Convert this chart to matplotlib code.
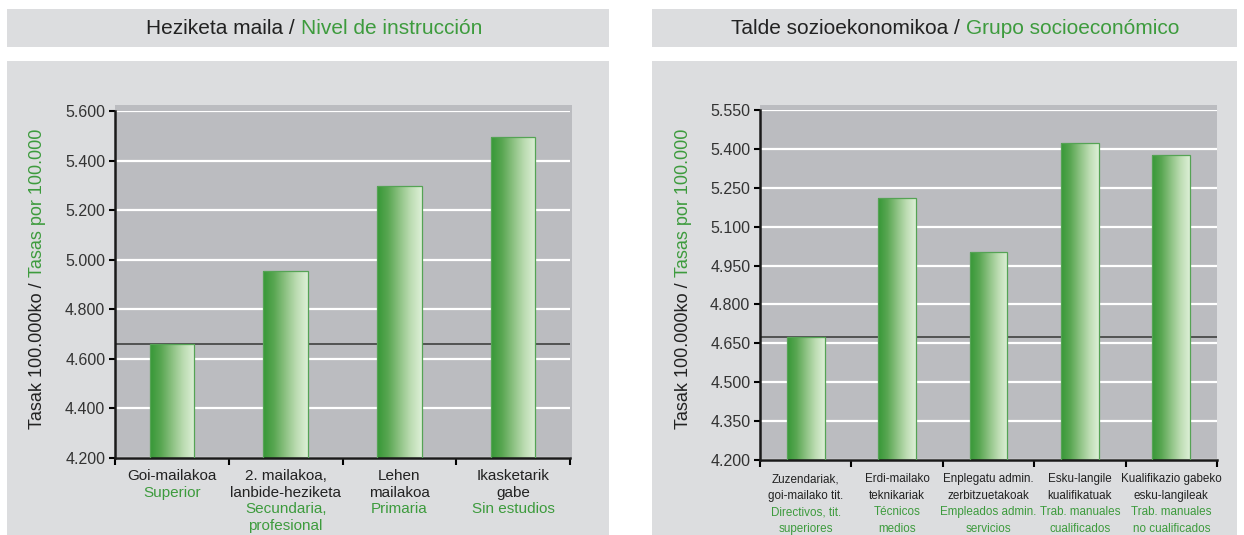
import matplotlib
matplotlib.use("Agg")
import matplotlib.pyplot as plt
import numpy as np
from matplotlib.colors import LinearSegmentedColormap
from matplotlib.patches import Rectangle
from matplotlib.ticker import FuncFormatter

plt.rcParams["font.family"] = ["Liberation Sans", "DejaVu Sans"]

W, H = 1244, 535
GREEN = "#3d9b3d"
DARK = "#222222"
PANEL = "#dcdddf"
PLOT_BG = "#bbbcc0"

# ---------- datos ----------
edu_title = ("Heziketa maila /", "Nivel de instrucción")
edu_eu = ["Goi-mailakoa", "2. mailakoa,\nlanbide-heziketa", "Lehen\nmailakoa", "Ikasketarik\ngabe"]
edu_es = ["Superior", "Secundaria,\nprofesional", "Primaria", "Sin estudios"]
edu_rates = [4658, 4954, 5298, 5497]
edu_ref = 4658
edu_yticks = [4200, 4400, 4600, 4800, 5000, 5200, 5400, 5600]

soc_title = ("Talde sozioekonomikoa /", "Grupo socioeconómico")
soc_eu = ["Zuzendariak,\ngoi-mailako tit.", "Erdi-mailako\nteknikariak", "Enplegatu admin.\nzerbitzuetakoak",
          "Esku-langile\nkualifikatuak", "Kualifikazio gabeko\nesku-langileak"]
soc_es = ["Directivos, tit.\nsuperiores", "Técnicos\nmedios", "Empleados admin.\nservicios",
          "Trab. manuales\ncualificados", "Trab. manuales\nno cualificados"]
soc_rates = [4673, 5209, 5002, 5421, 5377]
soc_ref = 4673
soc_yticks = [4200, 4350, 4500, 4650, 4800, 4950, 5100, 5250, 5400, 5550]

ylabel = ("Tasak 100.000ko /", "Tasas por 100.000")

bar_cmap = LinearSegmentedColormap.from_list(
    "barra", ["#379837", "#5aa753", "#8dc283", "#bcdcb2", "#dcefd6"])


def rect_px(x0, y0, x1, y1):
    # pixeles (origen arriba-izquierda) -> fraccion de figura
    return [x0 / W, 1 - y1 / H, (x1 - x0) / W, (y1 - y0) / H]


fig = plt.figure(figsize=(W / 100, H / 100), dpi=100)
fig.patch.set_facecolor("white")

for box in [(7, 9, 609, 47), (7, 61, 609, 535), (652, 9, 1237, 47), (652, 61, 1237, 535)]:
    x, y, w, h = rect_px(*box)
    fig.add_artist(Rectangle((x, y), w, h, transform=fig.transFigure, color=PANEL, lw=0, zorder=-3))
for box in [(115, 105, 572, 459), (760, 105, 1217, 459)]:
    x, y, w, h = rect_px(*box)
    fig.add_artist(Rectangle((x, y), w, h, transform=fig.transFigure, color=PLOT_BG, lw=0, zorder=-2))


def two_tone(cx, cy, parts, size, rotation=0):
    """Texto en dos colores (negro + verde) centrado en (cx, cy) px."""
    renderer = fig.canvas.get_renderer()
    gap = 0.278 * size * 100 / 72
    ts = []
    for txt, col in zip(parts, [DARK, GREEN]):
        t = fig.text(0, 0, txt, color=col, fontsize=size, rotation=rotation,
                     ha="left" if rotation == 0 else "center",
                     va="center" if rotation == 0 else "bottom",
                     rotation_mode="anchor" if rotation == 0 else "default")
        ts.append(t)
    sizes = []
    for t in ts:
        bb = t.get_window_extent(renderer)
        sizes.append(bb.width if rotation == 0 else bb.height)
    total = sizes[0] + gap + sizes[1]
    if rotation == 0:
        start = cx - total / 2
        ts[0].set_position((start / W, 1 - cy / H))
        ts[1].set_position(((start + sizes[0] + gap) / W, 1 - cy / H))
    else:
        start = (H - cy) - total / 2
        ts[0].set_position((cx / W, start / H))
        ts[1].set_position((cx / W, (start + sizes[0] + gap) / H))


def draw_panel(pos, rates, ref, yticks, lab_eu, lab_es, bar_w, lab_size):
    ax = fig.add_axes(rect_px(*pos))
    ax.set_facecolor("none")
    n = len(rates)
    x = np.arange(n)
    bars = ax.bar(x, rates, width=bar_w, bottom=0, color="none",
                  edgecolor="#55a355", linewidth=0.9, zorder=3)
    grad = np.linspace(0, 1, 64).reshape(1, -1)
    for b in bars:
        x0, y0 = b.get_x(), yticks[0]
        im = ax.imshow(grad, cmap=bar_cmap, aspect="auto", zorder=2.5,
                       extent=(x0, x0 + b.get_width(), y0, b.get_height()))
        im.set_clip_path(b)
    ax.axhline(ref, color="#4a4a4a", lw=1.3, zorder=1.5)
    ax.set_xlim(-0.5, n - 0.5)
    ax.set_ylim(yticks[0], yticks[-1])
    ax.set_yticks(yticks)
    ax.yaxis.set_major_formatter(FuncFormatter(lambda v, p: f"{v:,.0f}".replace(",", ".")))
    ax.set_xticks(np.arange(n + 1) - 0.5)
    ax.set_xticklabels([])
    ax.yaxis.grid(True, color="white", lw=1.6, zorder=0.5)
    ax.set_axisbelow(True)
    for s in ["top", "right"]:
        ax.spines[s].set_visible(False)
    for s in ["left", "bottom"]:
        ax.spines[s].set_color("#1a1a1a")
        ax.spines[s].set_linewidth(1.8)
    ax.tick_params(axis="y", direction="out", length=4, width=1.5, pad=3,
                   labelsize=11.5, labelcolor="#333333")
    ax.tick_params(axis="x", direction="out", length=5, width=1.5)
    for i, (eu, es) in enumerate(zip(lab_eu, lab_es)):
        lines = [(l, DARK) for l in eu.split("\n")] + [(l, GREEN) for l in es.split("\n")]
        for j, (t, c) in enumerate(lines):
            ax.annotate(t, xy=(i, 0), xycoords=("data", "axes fraction"),
                        xytext=(0, -(22 + j * 16.7)), textcoords="offset pixels",
                        ha="center", va="baseline", color=c, fontsize=lab_size,
                        annotation_clip=False)
    return ax


draw_panel((115, 111, 570, 458), edu_rates, edu_ref, edu_yticks, edu_eu, edu_es, 0.39, 11)
draw_panel((760, 110, 1217, 460), soc_rates, soc_ref, soc_yticks, soc_eu, soc_es, 0.415, 8.4)

two_tone(314, 28, edu_title, 15)
two_tone(955, 28, soc_title, 15)
two_tone(38, 279, ylabel, 13, rotation=90)
two_tone(684, 279, ylabel, 13, rotation=90)

fig.savefig("out.png", dpi=100)
